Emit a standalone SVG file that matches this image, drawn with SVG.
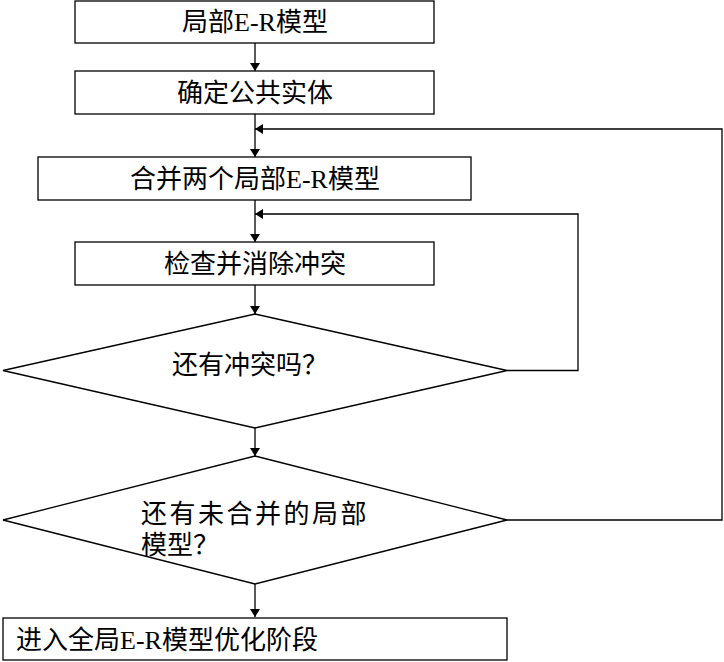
<svg xmlns="http://www.w3.org/2000/svg" width="724" height="662" viewBox="0 0 724 662">
<style>
.n{fill:#fff;stroke:#000;stroke-width:1.3}
.t{font-family:"Liberation Serif","Noto Sans CJK SC",serif;font-size:26px;fill:#000}
.c{fill:none;stroke:#000;stroke-width:1.3}
</style>
<defs>
<marker id="ah" markerWidth="8" markerHeight="10" refX="8" refY="5" orient="auto" markerUnits="userSpaceOnUse">
<path d="M0,0 L8,5 L0,10 Z" fill="#000"/>
</marker>
</defs>
<rect width="724" height="662" fill="#fff"/>
<g id="connectors">
<line class="c" x1="255" y1="43" x2="255" y2="71" marker-end="url(#ah)"/>
<line class="c" x1="255" y1="114" x2="255" y2="157" marker-end="url(#ah)"/>
<line class="c" x1="255" y1="200" x2="255" y2="242" marker-end="url(#ah)"/>
<line class="c" x1="255" y1="285" x2="255" y2="314" marker-end="url(#ah)"/>
<line class="c" x1="255" y1="428" x2="255" y2="456" marker-end="url(#ah)"/>
<line class="c" x1="255" y1="584" x2="255" y2="617" marker-end="url(#ah)"/>
<polyline class="c" points="507,370.5 578,370.5 578,214 255,214" marker-end="url(#ah)"/>
<polyline class="c" points="507,520 722,520 722,129 255,129" marker-end="url(#ah)"/>
</g>
<g id="n1">
<rect class="n" x="75" y="1" width="359" height="42"/>
<text class="t" x="255" y="31" text-anchor="middle">局部E-R模型</text>
</g>
<g id="n2">
<rect class="n" x="75" y="71" width="359" height="43"/>
<text class="t" x="255" y="102" text-anchor="middle">确定公共实体</text>
</g>
<g id="n3">
<rect class="n" x="38" y="157" width="433" height="43"/>
<text class="t" x="255" y="188" text-anchor="middle">合并两个局部E-R模型</text>
</g>
<g id="n4">
<rect class="n" x="75" y="242" width="359" height="43"/>
<text class="t" x="255" y="273" text-anchor="middle">检查并消除冲突</text>
</g>
<g id="n5">
<polygon class="n" points="255,314 507,370.5 255,428 3,370.5"/>
<text class="t" x="250" y="374" text-anchor="middle">还有冲突吗？</text>
</g>
<g id="n6">
<polygon class="n" points="255,456 507,520 255,584 3,520"/>
<text class="t" x="141" y="523" letter-spacing="2.5">还有未合并的局部</text>
<text class="t" x="141" y="554">模型？</text>
</g>
<g id="n7">
<rect class="n" x="3" y="618" width="504" height="42"/>
<text class="t" x="16" y="649">进入全局E-R模型优化阶段</text>
</g>
</svg>
